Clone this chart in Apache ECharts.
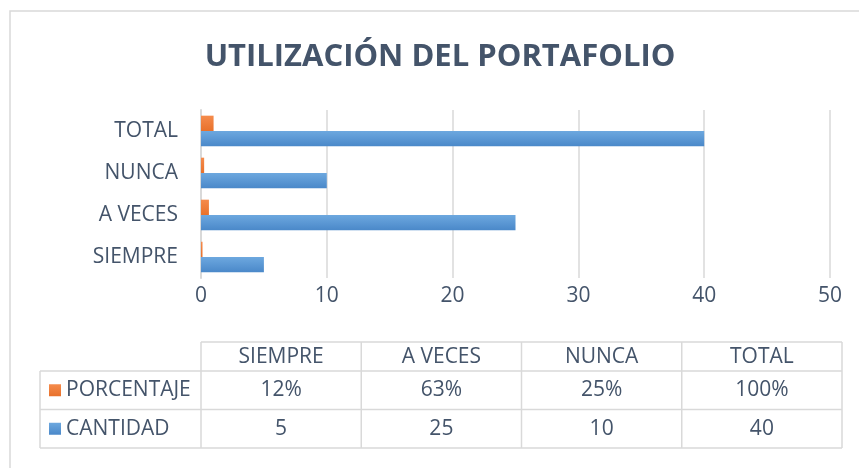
<!DOCTYPE html>
<html>
<head>
<meta charset="utf-8">
<script src="https://cdn.jsdelivr.net/npm/echarts@6/dist/echarts.min.js"></script>
<style>
  html, body { margin: 0; padding: 0; background: #fff; }
  #chart { width: 859px; height: 468px; }
</style>
</head>
<body>
<div id="chart"></div>
<script>
// datos
const categories = ['SIEMPRE', 'A VECES', 'NUNCA', 'TOTAL']
const cantidad = [5, 25, 10, 40]
const porcentaje = [0.12, 0.63, 0.25, 1.00]
const seriesNames = ['PORCENTAJE', 'CANTIDAD']
const axisMax = 50
const axisStep = 10

const textCol = '#44546A'
const lineCol = '#D9D9D9'
const font = '"Open Sans", sans-serif'
const fs = 21
const blue = ['#6DA8DF', '#4A88C9']
const orange = ['#F58B4C', '#E8712B']

function grad(c) {
  return {
    type: 'linear', x: 0, y: 0, x2: 0, y2: 1,
    colorStops: [{ offset: 0, color: c[0] }, { offset: 1, color: c[1] }]
  }
}

/* tabla de datos debajo del gráfico (estilo Excel) */
const tbl = { left: 40, colX: 201, colW: 160.25, headTop: 342, headH: 29, rowH: 38.5 }

function buildTable() {
  const els = []
  const bodyTop = tbl.headTop + tbl.headH
  const right = tbl.colX + tbl.colW * categories.length
  const rows = [
    { name: seriesNames[0], color: orange, vals: porcentaje.map((v) => Math.round(v * 100) + '%') },
    { name: seriesNames[1], color: blue, vals: cantidad.map(String) }
  ]
  const stroke = { stroke: lineCol, lineWidth: 1.5 }
  const txt = { fill: textCol, font: fs + 'px ' + font, verticalAlign: 'middle' }
  // horizontales
  els.push({ type: 'line', shape: { x1: tbl.colX, y1: tbl.headTop, x2: right, y2: tbl.headTop }, style: stroke })
  for (let r = 0; r <= rows.length; r++) {
    const y = bodyTop + r * tbl.rowH
    els.push({ type: 'line', shape: { x1: tbl.left, y1: y, x2: right, y2: y }, style: stroke })
  }
  // verticales
  els.push({ type: 'line', shape: { x1: tbl.left, y1: bodyTop, x2: tbl.left, y2: bodyTop + rows.length * tbl.rowH }, style: stroke })
  for (let c = 0; c <= categories.length; c++) {
    const x = tbl.colX + c * tbl.colW
    els.push({ type: 'line', shape: { x1: x, y1: tbl.headTop, x2: x, y2: bodyTop + rows.length * tbl.rowH }, style: stroke })
  }
  // encabezados
  categories.forEach((cat, i) => {
    els.push({
      type: 'text',
      style: { ...txt, text: cat, x: tbl.colX + (i + 0.5) * tbl.colW, y: tbl.headTop + tbl.headH / 2 + 1, align: 'center' }
    })
  })
  rows.forEach((row, r) => {
    const cy = bodyTop + (r + 0.5) * tbl.rowH
    els.push({ type: 'rect', shape: { x: 49, y: cy - 6, width: 12, height: 12 }, style: { fill: grad(row.color) } })
    els.push({ type: 'text', style: { ...txt, text: row.name, x: 66, y: cy, align: 'left' } })
    row.vals.forEach((v, i) => {
      els.push({
        type: 'text',
        style: { ...txt, text: v, x: tbl.colX + (i + 0.5) * tbl.colW, y: cy, align: 'center' }
      })
    })
  })
  return els
}

const chart = echarts.init(document.getElementById('chart'))

chart.setOption({
  backgroundColor: '#fff',
  animation: false,
  graphic: [
    { type: 'rect', z: -10, shape: { x: 10, y: 11, width: 900, height: 500 }, style: { fill: '#fff', stroke: lineCol, lineWidth: 1.5 } },
    {
      type: 'text',
      style: {
        text: 'UTILIZACIÓN DEL PORTAFOLIO', x: 440, y: 57,
        align: 'center', verticalAlign: 'middle', fill: textCol,
        font: 'bold 31px ' + font
      }
    },
    ...buildTable()
  ],
  grid: { left: 201, right: 29, top: 110, bottom: 190 },
  xAxis: {
    type: 'value',
    min: 0, max: axisMax, interval: axisStep,
    axisLine: { show: false },
    axisTick: { show: false },
    splitLine: { lineStyle: { color: lineCol, width: 1.5 } },
    axisLabel: { color: textCol, fontSize: fs, fontFamily: font, margin: 8 }
  },
  yAxis: {
    type: 'category',
    data: categories,
    axisLine: { show: true, lineStyle: { color: lineCol, width: 2 } },
    axisTick: { show: false },
    axisLabel: { color: textCol, fontSize: fs, fontFamily: font, margin: 23 }
  },
  series: [
    {
      name: seriesNames[0], type: 'bar', data: porcentaje,
      barGap: '0%', barCategoryGap: '27%',
      itemStyle: { color: grad(orange) }
    },
    {
      name: seriesNames[1], type: 'bar', data: cantidad,
      barGap: '0%', barCategoryGap: '27%',
      itemStyle: { color: grad(blue) }
    }
  ]
})
</script>
</body>
</html>
